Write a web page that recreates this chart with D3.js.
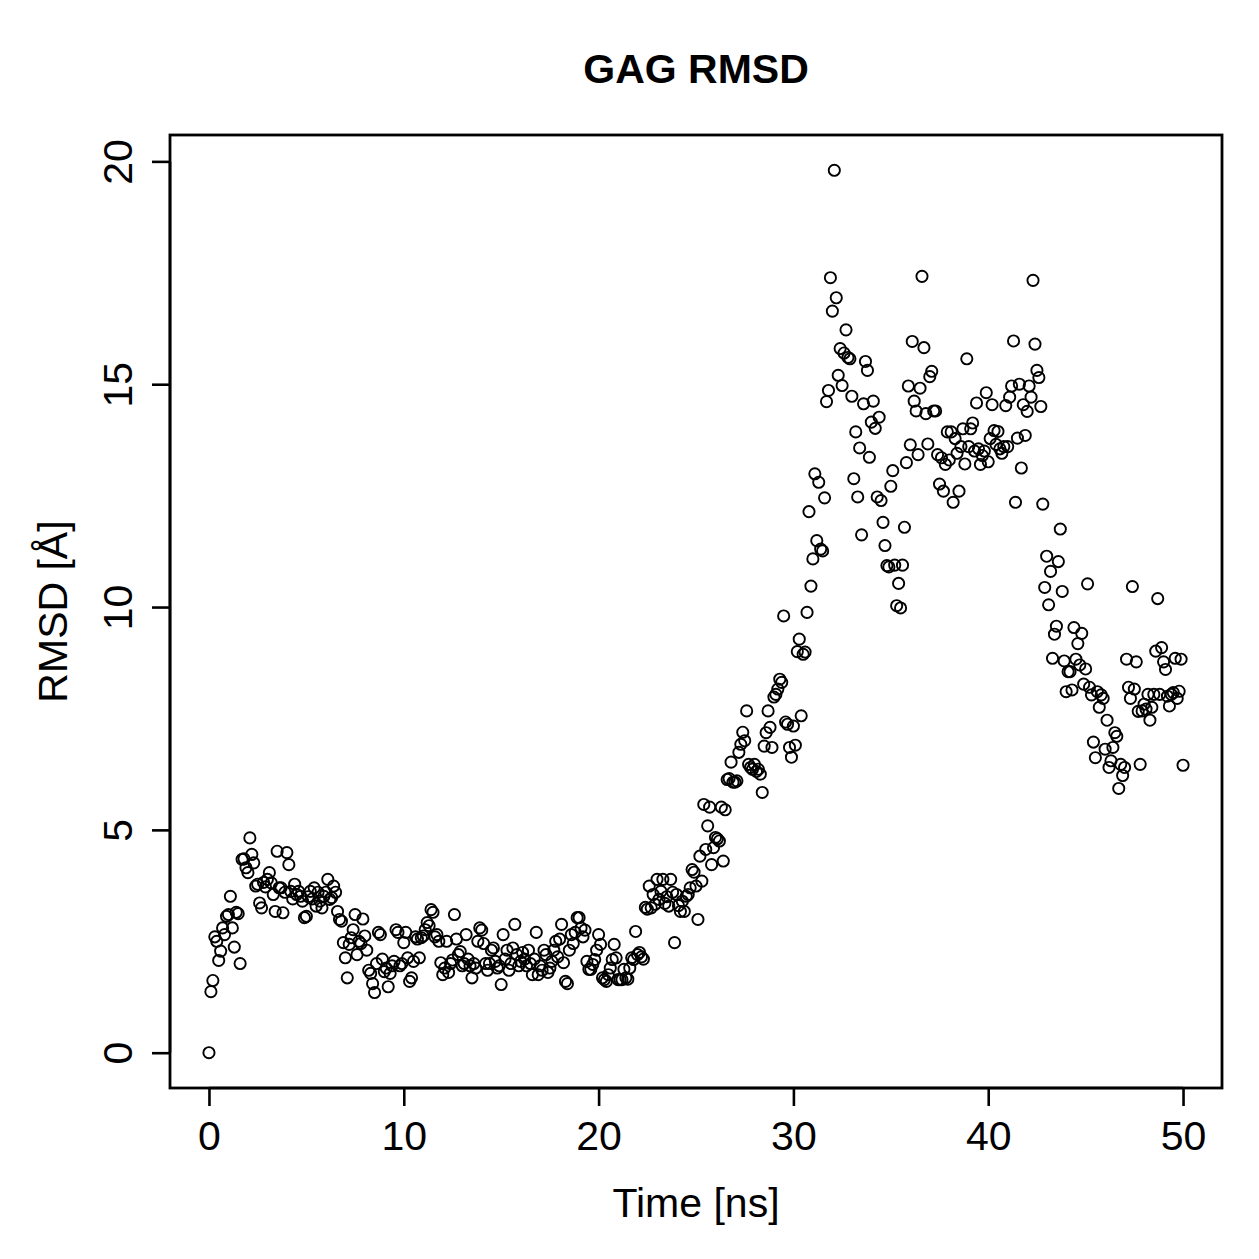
<!DOCTYPE html>
<html><head><meta charset="utf-8">
<script src="https://cdn.jsdelivr.net/npm/d3@7"></script>
<style>body{margin:0;background:#fff}</style>
</head><body>
<script>
const timeStep = 0.1; // ns between frames
const rmsd0to10 = [
0,1.37,1.62,2.6,2.5,2.07,2.28,2.8,2.65,3.06,
3.1,3.51,2.8,2.37,3.15,3.12,2.0,4.34,4.35,4.15,
4.04,4.82,4.45,4.26,3.74,3.78,3.36,3.25,3.82,3.72,
3.89,4.04,3.81,3.55,3.17,4.52,3.7,3.7,3.14,3.6,
4.49,4.22,3.62,3.45,3.78,3.55,3.62,3.51,3.4,3.03,
3.06,3.5,3.62,3.45,3.7,3.29,3.6,3.4,3.25,3.51,
3.6,3.89,3.44,3.48,3.74,3.6,3.17,2.99,2.95,2.47,
2.13,1.68,2.43,2.58,2.76,3.1,2.2,2.5,2.45,3.0,
2.62,2.3,1.85,1.78,1.55,1.35,2.0,2.7,2.65,2.1,
1.82,1.9,1.48,1.78,1.95,2.05,2.76,2.7,1.95,2.0];
const rmsd10to20 = [
2.47,2.7,2.13,1.6,1.68,2.05,2.6,2.55,2.13,2.58,
2.62,2.76,2.92,2.85,3.21,3.15,2.6,2.65,2.5,2.02,
1.75,1.9,2.5,1.8,2.0,2.08,3.1,2.55,2.2,2.27,
1.95,2.0,2.65,2.1,1.95,1.68,2.0,1.9,2.5,2.8,
2.75,2.45,2.0,1.85,2.0,2.3,2.35,2.05,1.9,1.95,
1.53,2.65,2.1,2.3,1.85,2.0,2.35,2.88,2.2,1.95,
2.05,2.25,2.1,1.95,2.3,2.0,1.75,2.1,2.7,1.75,
1.95,1.85,2.3,2.2,1.8,1.9,2.05,2.3,2.5,2.15,
2.55,2.88,2.02,1.6,1.55,2.3,2.65,2.45,2.7,3.03,
3.03,2.8,2.6,2.75,2.05,1.87,1.87,1.98,2.09,2.3];
const rmsd20to30 = [
2.65,2.43,1.68,1.64,1.6,1.75,1.9,2.09,2.43,2.13,
1.64,1.64,1.64,1.87,1.68,1.65,1.9,2.13,2.09,2.72,
2.2,2.25,2.15,2.1,3.26,3.22,3.74,3.25,3.55,3.33,
3.89,3.44,3.62,3.89,3.35,3.5,3.29,3.89,3.6,2.47,
3.55,3.3,3.17,3.4,3.17,3.51,3.55,3.7,4.11,4.05,
3.74,2.99,4.41,3.85,5.57,4.56,5.09,5.51,4.22,4.6,
4.83,4.8,4.75,5.51,4.3,5.45,6.13,6.15,6.52,6.07,
6.07,6.1,6.74,6.92,7.19,7.0,7.67,6.47,6.4,6.36,
6.47,6.31,6.36,6.25,5.84,6.88,7.18,7.67,7.3,6.85,
7.98,8.04,8.16,8.38,8.31,9.8,7.42,7.37,6.85,6.63];
const rmsd30to40 = [
7.33,6.9,9.0,9.28,7.56,8.94,8.99,9.88,12.14,10.47,
11.08,12.99,11.49,12.8,11.3,11.26,12.45,14.61,14.86,17.39,
16.64,19.8,16.94,15.2,15.8,14.97,15.7,16.22,15.6,15.57,
14.73,12.88,13.93,12.47,13.57,11.62,14.56,15.51,15.31,13.36,
14.15,14.62,14.01,12.47,14.26,12.39,11.9,11.38,10.93,10.9,
12.71,13.06,10.94,10.03,10.53,9.98,10.94,11.79,13.24,14.96,
13.64,15.96,14.62,14.4,13.42,14.91,17.42,15.82,14.34,13.66,
15.17,15.29,14.4,14.4,13.42,12.76,13.35,12.6,13.2,13.93,
13.3,13.93,12.35,13.78,13.45,12.6,13.6,14.0,13.21,15.57,
13.6,14.0,14.13,13.5,14.58,13.55,13.2,13.4,13.5,14.81];
const rmsd40to50 = [
13.26,13.78,14.54,13.96,13.65,13.94,13.55,13.45,13.6,14.52,
13.6,14.71,14.96,15.97,12.35,13.79,15.0,13.12,14.54,13.85,
14.39,14.96,14.71,17.33,15.9,15.31,15.15,14.5,12.31,10.44,
11.14,10.05,10.8,8.85,9.39,9.57,11.02,11.75,10.35,8.79,
8.1,8.55,8.55,8.14,9.54,8.83,9.18,8.7,9.41,8.27,
8.61,10.52,8.2,8.03,6.97,6.62,8.1,7.75,8.03,7.95,
6.81,7.46,6.4,6.55,6.85,7.18,7.1,5.93,6.47,6.22,
6.4,8.83,8.2,7.95,10.46,8.16,8.77,7.66,6.47,7.67,
7.82,7.71,8.04,7.46,7.75,8.04,9.01,10.19,8.04,9.09,
8.77,8.6,8.0,7.78,8.04,8.08,8.85,7.95,8.11,8.83,
6.45];
const xTicks = [0,10,20,30,40,50];
const yTicks = [0,5,10,15,20];
const titleText = "GAG RMSD";
const xLabel = "Time [ns]";
const yLabel = "RMSD [Å]";

const rmsd = [].concat(rmsd0to10, rmsd10to20, rmsd20to30, rmsd30to40, rmsd40to50);
const data = rmsd.map((v,i)=>({t: +(i*timeStep).toFixed(1), v}));

const W=1259,H=1259;
const M={left:170,right:1222,top:135,bottom:1088};
const font="'Liberation Sans', Arial, Helvetica, sans-serif";
const tickFont=41;

const tExt=d3.extent(data,d=>d.t), vExt=d3.extent(data,d=>d.v);
const tPad=(tExt[1]-tExt[0])*0.04, vPad=(vExt[1]-vExt[0])*0.04;
const x=d3.scaleLinear().domain([tExt[0]-tPad,tExt[1]+tPad]).range([M.left,M.right]);
const y=d3.scaleLinear().domain([vExt[0]-vPad,vExt[1]+vPad]).range([M.bottom,M.top]);

const svg=d3.select("body").append("svg").attr("width",W).attr("height",H)
  .style("font-family",font);

svg.append("g").selectAll("circle").data(data).join("circle")
  .attr("cx",d=>x(d.t)).attr("cy",d=>y(d.v)).attr("r",5.6)
  .attr("fill","none").attr("stroke","#000").attr("stroke-width",1.9);

const xAxis=svg.append("g").attr("transform",`translate(0,${M.bottom})`)
  .call(d3.axisBottom(x).tickValues(xTicks).tickSize(18).tickFormat(d3.format("d")));
xAxis.select(".domain").attr("d",`M${x(xTicks[0])},0H${x(xTicks[xTicks.length-1])}`).attr("stroke-width",2.6);
xAxis.selectAll(".tick line").attr("stroke-width",2.6);
xAxis.selectAll("text").attr("font-size",tickFont).attr("font-family",font).attr("fill","#000")
  .attr("y",62).attr("dy",null);

const yAxis=svg.append("g").attr("transform",`translate(${M.left},0)`)
  .call(d3.axisLeft(y).tickValues(yTicks).tickSize(18).tickFormat(d3.format("d")));
yAxis.select(".domain").attr("d",`M0,${y(yTicks[0])}V${y(yTicks[yTicks.length-1])}`).attr("stroke-width",2.6);
yAxis.selectAll(".tick line").attr("stroke-width",2.6);
yAxis.selectAll("text").attr("font-size",tickFont).attr("font-family",font).attr("fill","#000")
  .attr("x",null).attr("dy",null).attr("text-anchor","middle")
  .attr("transform","translate(-38,0) rotate(-90)");

svg.append("rect").attr("x",M.left).attr("y",M.top).attr("width",M.right-M.left).attr("height",M.bottom-M.top)
  .attr("fill","none").attr("stroke","#000").attr("stroke-width",2.8);

svg.append("text").attr("x",(M.left+M.right)/2).attr("y",83).attr("text-anchor","middle")
  .attr("font-size",41).attr("font-weight","bold").text(titleText);
svg.append("text").attr("x",(M.left+M.right)/2).attr("y",1217).attr("text-anchor","middle")
  .attr("font-size",41).text(xLabel);
svg.append("text").attr("transform",`translate(67,${(M.top+M.bottom)/2}) rotate(-90)`).attr("text-anchor","middle")
  .attr("font-size",41).text(yLabel);
</script>
</body></html>
